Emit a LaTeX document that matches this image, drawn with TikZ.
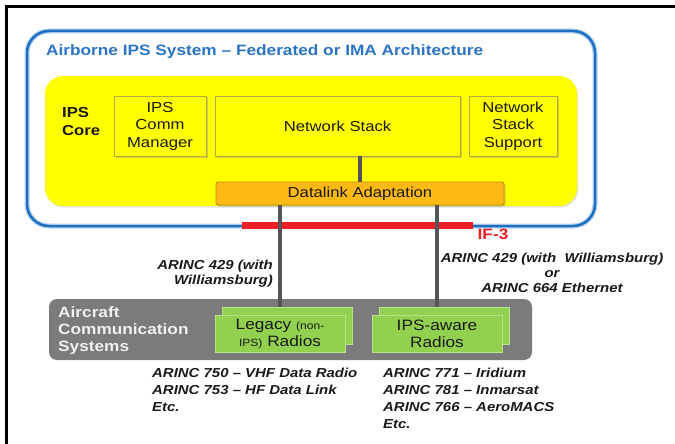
\documentclass[tikz,border=0pt]{standalone}
\usepackage{fontspec}
\setmainfont[FakeStretch=1.15]{Liberation Sans}
\usetikzlibrary{shadows}
\definecolor{bluebox}{HTML}{1F6FC1}
\definecolor{blueglow}{HTML}{B5D3EF}
\definecolor{ylw}{HTML}{FFFF00}
\definecolor{ylwedge}{HTML}{B3AC45}
\definecolor{orng}{HTML}{FDB913}
\definecolor{orngedge}{HTML}{C08A18}
\definecolor{gryfill}{HTML}{7B7B7B}
\definecolor{grn}{HTML}{92D050}
\definecolor{grnedge}{HTML}{B8E38C}
\definecolor{conn}{HTML}{555555}
\definecolor{txt}{HTML}{1A1A1A}
\definecolor{titleblue}{HTML}{2C74C4}
\definecolor{ifred}{HTML}{EE1D23}
\begin{document}
\begin{tikzpicture}[x=1pt,y=-1pt,
  innerbox/.style={draw=ylwedge, line width=0.9pt, fill=ylw,
    drop shadow={shadow xshift=1.5pt, shadow yshift=-1.5pt, opacity=0.35},
    align=center, inner sep=0pt, text=txt,
    font=\fontsize{14.5}{17.5}\selectfont},
  dlbox/.style={draw=orngedge, line width=0.8pt, fill=orng, rounded corners=2pt,
    drop shadow={shadow xshift=1.5pt, shadow yshift=-1.5pt, opacity=0.35},
    inner sep=0pt, text=txt, font=\fontsize{14.5}{17.5}\selectfont},
  radioback/.style={draw=grnedge, line width=0.8pt, fill=grn, inner sep=0pt,
    minimum width=130pt, minimum height=37pt},
  radiofront/.style={radioback, align=center, text=txt,
    font=\fontsize{15}{17}\selectfont},
  connline/.style={draw=conn, line width=3.5pt},
  lbl/.style={inner sep=0pt, text=txt, font=\fontsize{13}{15}\selectfont\bfseries\itshape},
  lstlbl/.style={lbl, align=left, font=\fontsize{13}{17}\selectfont\bfseries\itshape}
]
\useasboundingbox (0,0) rectangle (675,444);
\fill[white] (0,0) rectangle (675,444);
% frame
\draw[line width=3pt] (5,7) -- (675,7);
\draw[line width=3pt] (6.5,7) -- (6.5,444);
% blue outer box
\draw[blueglow, line width=5pt, rounded corners=22pt] (27,31) rectangle (595,226);
\draw[bluebox, line width=2.5pt, rounded corners=22pt] (27,31) rectangle (595,226);
\node[anchor=west, inner sep=0pt, text=titleblue, font=\fontsize{15}{18}\selectfont\bfseries]
  (title) at (46,51.5) {Airborne IPS System – Federated or IMA Architecture};
% yellow core
\fill[ylw, rounded corners=18pt, drop shadow={shadow xshift=1pt, shadow yshift=-1.5pt, opacity=0.25}]
  (45,76) rectangle (577,206);
\node[anchor=west, align=left, inner sep=0pt, text=txt, font=\fontsize{14.5}{18}\selectfont\bfseries]
  (core) at (62,122) {IPS\\Core};
\node[innerbox, minimum width=92pt, minimum height=60pt] (mgr) at (160,126) {IPS\\Comm\\Manager};
\node[innerbox, minimum width=245pt, minimum height=60pt] (ns) at (337.5,126) {Network Stack};
\node[innerbox, minimum width=88pt, minimum height=60pt] (nss) at (513,126) {Network\\Stack\\Support};
\node[dlbox, minimum width=288pt, minimum height=23pt] (dl) at (360,193.5) {Datalink Adaptation};
\draw[connline] (dl.north |- ns.south) -- (dl.north);
% IF-3
\draw[ifred, line width=7pt] (242,225.5) -- (473,225.5);
\node[inner sep=0pt, text=ifred, font=\fontsize{15}{18}\selectfont\bfseries] (if3) at (493,234) {IF-3};
% aircraft comm systems
\fill[gryfill, rounded corners=8pt] (49,299) rectangle (532,360);
\node[anchor=west, align=left, inner sep=0pt, text=white!94!black, font=\fontsize{15}{17}\selectfont\bfseries]
  (acs) at (58,331) {Aircraft\\Communication\\Systems};
\node[radioback] (legB) at (287,325.5) {};
\node[radiofront] (leg) at (280,333.5) {Legacy {\fontsize{10.5}{12}\selectfont(non-}\\{\fontsize{10.5}{12}\selectfont IPS)} Radios};
\node[radioback] (ipsB) at (444,325.5) {};
\node[radiofront] (ipsr) at (437,333.5) {IPS-aware\\Radios};
\draw[connline] (dl.south -| leg.north) -- (leg.north |- legB.north);
\draw[connline] (dl.south -| ipsr.north) -- (ipsr.north |- ipsB.north);
% labels
\node[lbl, anchor=east, align=right] (l1) at (273,273.5) {ARINC 429 (with\\Williamsburg)};
\node[lbl, align=center] (l2) at (552,272.5) {ARINC 429 (with \ Williamsburg)\\or\\ARINC 664 Ethernet};
\node[lstlbl, anchor=west] (l3) at (152,390) {ARINC 750 – VHF Data Radio\\ARINC 753 – HF Data Link\\Etc.};
\node[lstlbl, anchor=west] (l4) at (383,398.5) {ARINC 771 – Iridium\\ARINC 781 – Inmarsat\\ARINC 766 – AeroMACS\\Etc.};
\end{tikzpicture}
\end{document}
